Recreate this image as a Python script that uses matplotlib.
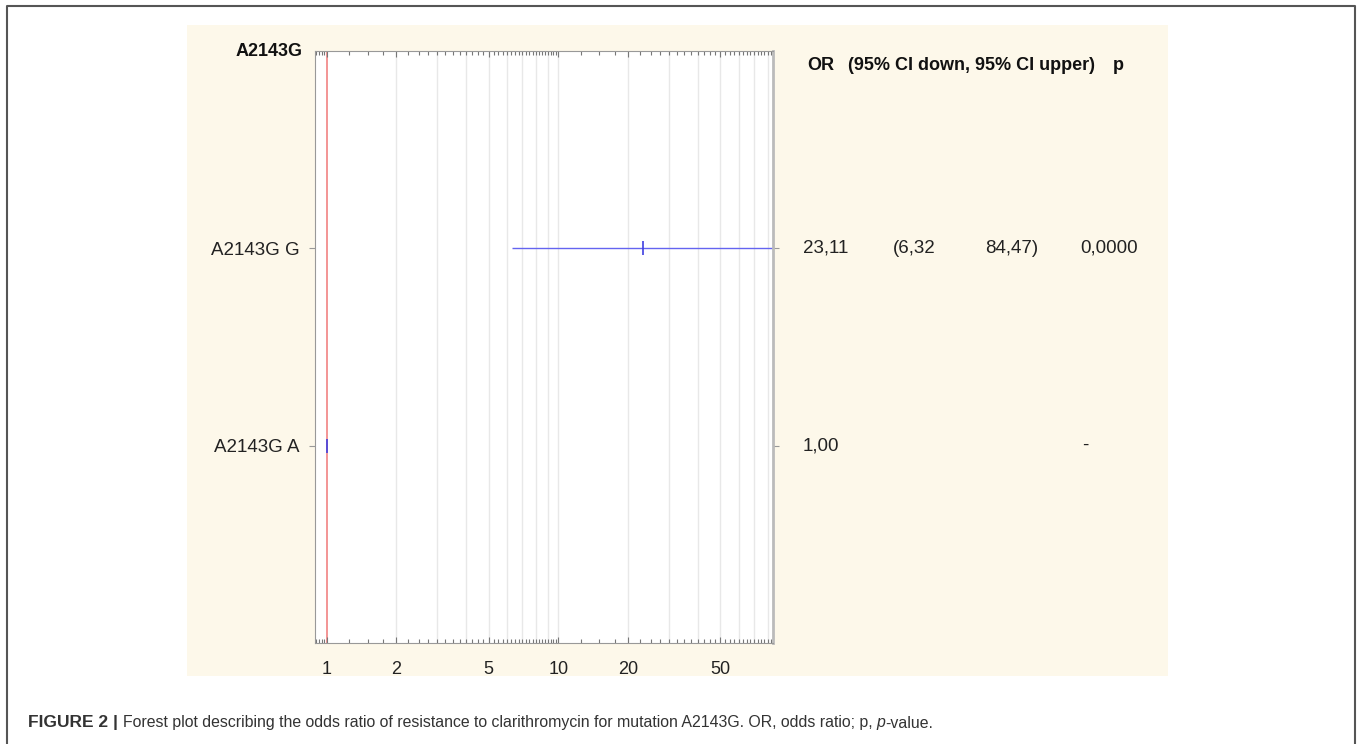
import numpy as np
import matplotlib
matplotlib.use('Agg')
import matplotlib.pyplot as plt
from matplotlib.transforms import blended_transform_factory
from matplotlib.patches import Rectangle
from matplotlib.lines import Line2D
from matplotlib.ticker import FixedLocator, NullFormatter, FuncFormatter

plt.rcParams['font.family'] = ['Liberation Sans', 'DejaVu Sans']

# Data
group = 'A2143G'
alleles = ['A2143G G', 'A2143G A']
odds = [23.11, 1.00]
ci_low = [6.32, None]
ci_high = [84.47, None]
p_text = ['0,0000', '-']
major_ticks = [1, 2, 5, 10, 20, 50]

W, H = 1357, 744
fig = plt.figure(figsize=(W / 100, H / 100), dpi=100)


def fx(px):
    return px / W


def fy(py):
    return 1 - py / H


# Cream panel behind the plot and the outer frame of the figure
fig.patches.append(Rectangle((fx(187), fy(676)), fx(1168) - fx(187), fy(25) - fy(676),
                             transform=fig.transFigure, facecolor='#FDF8EA',
                             edgecolor='none', zorder=-5))
fig.lines.append(Line2D([fx(7), fx(7), fx(1355), fx(1355)], [0, fy(6), fy(6), 0],
                        transform=fig.transFigure, color='#555555', lw=1.5))

ax = fig.add_axes([fx(315), fy(643), fx(773) - fx(315), fy(51) - fy(643)])
ax.set_zorder(2)
ax.set_facecolor('white')
ax.set_xscale('log')
ax.set_xlim(0.89, 84.47)
ax.set_ylim(3, 0)
rows = list(range(1, len(alleles) + 1))

# light grid at 2..9, 10, 20..80
for g in [k * 10 ** n for n in (0, 1) for k in range(2, 10)] + [10]:
    ax.axvline(g, color='#E8E8E8', lw=1, zorder=0)
ax.axvline(1, color='#F07878', lw=1.1, zorder=1)

# confidence intervals and point estimates
for r, lo, hi in zip(rows, ci_low, ci_high):
    if lo is not None:
        ax.hlines(r, lo, hi, color='#6464F0', lw=1, zorder=2)
ax.plot(odds, rows, '|', color='#4040E0', ms=10, mew=1.2, zorder=3, clip_on=False)

# ticks
ax.xaxis.set_major_locator(FixedLocator(major_ticks))
ax.xaxis.set_major_formatter(FuncFormatter(lambda v, _: f'{v:g}'))
minor = list(np.arange(0.9, 0.99, 0.025)) + list(np.arange(1, 10, 0.25)) + list(np.arange(10, 85, 2.5))
ax.xaxis.set_minor_locator(FixedLocator(minor))
ax.xaxis.set_minor_formatter(NullFormatter())
ax.tick_params(axis='x', which='both', direction='in', top=True, length=3,
               color='#777777', width=0.8, labelsize=13, pad=13, labelcolor='#222222')
ax.tick_params(axis='x', which='major', length=4)
ax.set_yticks(rows, alleles)
ax.tick_params(axis='y', direction='out', length=4, color='#999999', labelsize=13.5,
               pad=7, right=True, labelcolor='#222222')
for s in ax.spines.values():
    s.set_color('#999999')
ax.spines['right'].set_color('#BBBBBB')
ax.spines['right'].set_linewidth(2)

# group header on the left
ax.text(-12 / 458, 0, group, transform=blended_transform_factory(ax.transAxes, ax.transData),
        ha='right', va='center', fontsize=13, fontweight='bold', color='#111111', clip_on=False)

# table on the right
tr = blended_transform_factory(fig.transFigure, ax.transData)
hdr = dict(transform=fig.transFigure, va='center', fontsize=13, fontweight='bold', color='#111111')
fig.text(fx(807), fy(66), 'OR', **hdr)
fig.text(fx(848), fy(66), '(95% CI down, 95% CI upper)', **hdr)
fig.text(fx(1113), fy(66), 'p', **hdr)


def fmt(v):
    return f'{v:.2f}'.replace('.', ',')


cell = dict(transform=tr, va='center', fontsize=13.5, color='#222222')
for r, o, lo, hi, p in zip(rows, odds, ci_low, ci_high, p_text):
    fig.text(fx(803), r, fmt(o), **cell)
    if lo is not None:
        fig.text(fx(893), r, '(' + fmt(lo), **cell)
        fig.text(fx(985), r, fmt(hi) + ')', **cell)
    fig.text(fx(1082 if p == '-' else 1080), r, p, **cell)

# caption built from pieces
renderer = fig.canvas.get_renderer()
x = fx(28)
pieces = [('FIGURE 2 | ', 'bold', 'normal', 12.5),
          ('Forest plot describing the odds ratio of resistance to clarithromycin for mutation '
           'A2143G. OR, odds ratio; p, ', 'normal', 'normal', 11.4),
          ('p', 'normal', 'italic', 11.4),
          ('-value.', 'normal', 'normal', 11.4)]
for txt, wt, st, sz in pieces:
    t = fig.text(x, fy(723), txt, fontsize=sz, fontweight=wt, fontstyle=st,
                 color='#333333', va='center', ha='left')
    bb = t.get_window_extent(renderer)
    x += bb.width / W

fig.savefig('out.png', dpi=100)
